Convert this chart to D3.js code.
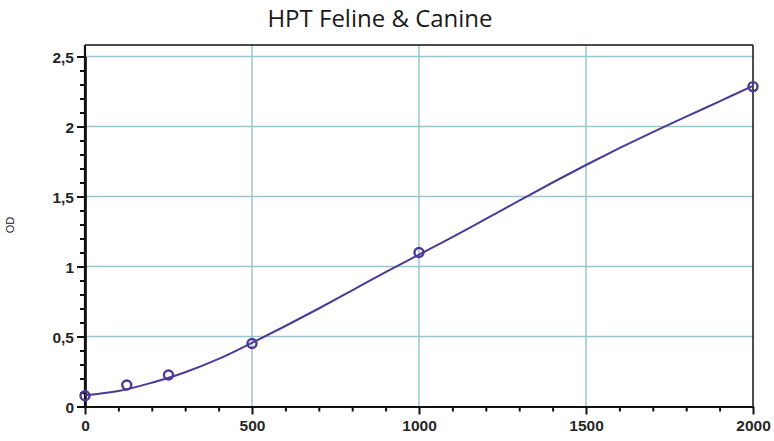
<!DOCTYPE html>
<html><head><meta charset="utf-8">
<script src="https://cdn.jsdelivr.net/npm/d3@7"></script>
<style>body{margin:0;background:#fff;} svg{display:block;}</style>
</head><body>
<svg id="chart" width="774" height="441"></svg>
<script>
// Data
const concentrations = [0, 125, 250, 500, 1000, 2000];
const odValues = [0.077, 0.154, 0.225, 0.45, 1.10, 2.285];
// fitted standard curve
const curveX = [0, 100, 200, 300, 400, 500, 600, 700, 800, 900, 1000, 1100, 1200, 1300, 1400, 1500, 1600, 1700, 1800, 1900, 2000];
const curveY = [0.08, 0.11, 0.17, 0.245, 0.34, 0.455, 0.575, 0.70, 0.83, 0.96, 1.085, 1.21, 1.34, 1.47, 1.60, 1.725, 1.845, 1.96, 2.07, 2.18, 2.29];
const xTicks = [0, 500, 1000, 1500, 2000];
const yTicks = [0, 0.5, 1, 1.5, 2, 2.5];
const yTickLabels = ["0", "0,5", "1", "1,5", "2", "2,5"];
const title = "HPT Feline & Canine";
const yTitle = "OD";

const svg = d3.select("#chart");
const L = 85, R = 753, T = 45, B = 406.5;
const x = d3.scaleLinear().domain([0, 2000]).range([L, R]);
const y = d3.scaleLinear().domain([0, 2.5]).range([B, B - 350]);

const gridColor = "#98c6cf";
const purple = "#4d3a96";

// grid
svg.append("g").selectAll("line").data(xTicks.filter(d => d > 0 && d < 2000)).join("line")
  .attr("x1", d => x(d)).attr("x2", d => x(d)).attr("y1", T).attr("y2", B)
  .attr("stroke", gridColor).attr("stroke-width", 1.5);
svg.append("g").selectAll("line").data(yTicks.filter(d => d > 0)).join("line")
  .attr("x1", L).attr("x2", R).attr("y1", d => y(d)).attr("y2", d => y(d))
  .attr("stroke", gridColor).attr("stroke-width", 1.5);

// frame top/right
svg.append("line").attr("x1", L).attr("x2", R).attr("y1", T).attr("y2", T).attr("stroke", "#111").attr("stroke-width", 1.5);
svg.append("line").attr("x1", R).attr("x2", R).attr("y1", T).attr("y2", B).attr("stroke", "#111").attr("stroke-width", 1.5);

// axes
const tickFont = "bold 15.5px 'Liberation Sans', Arial, sans-serif";
const xMinor = d3.range(0, 2001, 100).filter(d => !xTicks.includes(d));
const yMinor = d3.range(0, 26).map(i => i / 10).filter(d => !yTicks.some(t => Math.abs(t - d) < 1e-9));

const gx = svg.append("g").attr("transform", `translate(0,${B})`)
  .call(d3.axisBottom(x).tickValues(xTicks).tickFormat(d3.format("d")).tickSize(8).tickSizeOuter(0).tickPadding(5));
const gxm = svg.append("g").attr("transform", `translate(0,${B})`)
  .call(d3.axisBottom(x).tickValues(xMinor).tickFormat("").tickSize(5).tickSizeOuter(0));
const gy = svg.append("g").attr("transform", `translate(${L},0)`)
  .call(d3.axisLeft(y).tickValues(yTicks).tickFormat((d, i) => yTickLabels[i]).tickSize(8).tickSizeOuter(0).tickPadding(3));
const gym = svg.append("g").attr("transform", `translate(${L},0)`)
  .call(d3.axisLeft(y).tickValues(yMinor).tickFormat("").tickSize(5).tickSizeOuter(0));
[gx, gxm, gy, gym].forEach(g => {
  g.selectAll("line").attr("stroke", "#111").attr("stroke-width", 2);
  g.selectAll(".domain").attr("stroke", "#111").attr("stroke-width", 2.2);
  g.selectAll("text").style("font", tickFont).attr("fill", "#262626");
});
svg.append("line").attr("x1", L).attr("x2", L).attr("y1", T).attr("y2", B).attr("stroke", "#111").attr("stroke-width", 2.2);
gy.selectAll("text").attr("dy", "0.36em");

// curve
const pts = curveX.map((d, i) => [d, curveY[i]]);
svg.append("path").datum(pts)
  .attr("d", d3.line().x(d => x(d[0])).y(d => y(d[1])).curve(d3.curveCatmullRom))
  .attr("fill", "none").attr("stroke", purple).attr("stroke-width", 2);

// markers
const mk = svg.append("g");
mk.selectAll("circle").data(concentrations).join("circle")
  .attr("cx", d => x(d)).attr("cy", (d, i) => y(odValues[i])).attr("r", 4.5)
  .attr("fill", "none").attr("stroke", purple).attr("stroke-width", 2.4);

// title
svg.append("text").attr("x", 380).attr("y", 27).attr("text-anchor", "middle")
  .style("font", "24px 'Open Sans', 'Noto Sans', sans-serif").attr("fill", "#1a1a1a").text(title);
// y title
svg.append("text").attr("transform", "translate(14,225) rotate(-90)").attr("text-anchor", "middle")
  .style("font", "11px 'Liberation Sans', Arial, sans-serif").attr("fill", "#222").text(yTitle);
</script>
</body></html>
